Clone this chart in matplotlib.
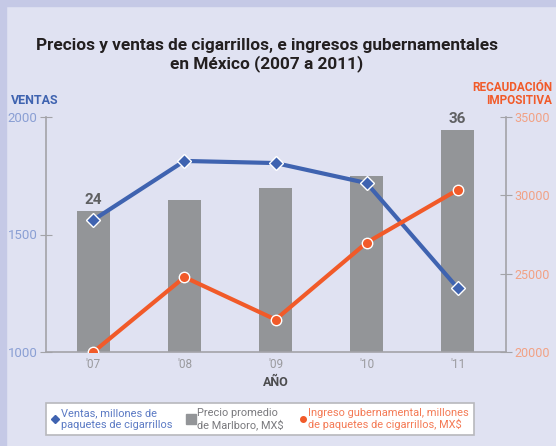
import matplotlib.pyplot as plt
from matplotlib.lines import Line2D
from matplotlib.patches import Rectangle

years = ["'07", "'08", "'09", "'10", "'11"]
ventas = [1562, 1813, 1804, 1719, 1272]          # millones de paquetes
precio = [24, 25.6, 27.4, 29.2, 36]              # MX$ Marlboro
ingreso = [20000, 24780, 22070, 26980, 30350]    # recaudacion
precio_labels = {0: "24", 4: "36"}

bg = '#e0e2f2'
blue = '#3f63b0'
orange = '#f15a29'
grey_bar = '#939598'
spine = '#a3a3a8'

plt.rcParams['font.family'] = ['Roboto', 'DejaVu Sans']

fig = plt.figure(figsize=(5.56, 4.46), dpi=100, facecolor=bg)
# darker frame strips
fig.patches.append(Rectangle((0, 0), 6/556, 1, transform=fig.transFigure, color='#c5c9e6', zorder=0))
fig.patches.append(Rectangle((0, 1-6/446), 1, 6/446, transform=fig.transFigure, color='#c5c9e6', zorder=0))

rect = [46/556, 1-352/446, 460/556, 235/446]
ax_bar = fig.add_axes(rect)
ax_bar.set_facecolor('none')
x = list(range(len(years)))
bars = ax_bar.bar(x, precio, width=0.36, color=grey_bar, zorder=1)
ax_bar.set_ylim(3.1, 37.9)
ax_bar.set_xlim(-0.52, 4.53)
ax_bar.axis('off')
for i, lab in precio_labels.items():
    ax_bar.text(i, precio[i] + 0.6, lab, ha='center', va='bottom', fontsize=11,
                fontweight='bold', color='#5f6062')

ax = fig.add_axes(rect, sharex=ax_bar)
ax.set_facecolor('none')
ax.plot(x, ventas, color=blue, lw=3, marker='D', ms=7.5, mfc=blue, mec='white', mew=1, zorder=3)
ax.set_ylim(1000, 2000)
ax.set_yticks([1000, 1500, 2000])
ax.set_xticks(x)
ax.set_xticklabels(years)
ax.tick_params(axis='y', direction='inout', length=8, color=spine, labelcolor='#8a9fd4', labelsize=9.5, pad=2)
ax.tick_params(axis='x', length=0, labelcolor='#9a9a9e', labelsize=8.5, pad=4)
for s in ['top', 'right']:
    ax.spines[s].set_visible(False)
for s in ['left', 'bottom']:
    ax.spines[s].set_color(spine)
    ax.spines[s].set_linewidth(1.2)
ax.set_xlabel('AÑO', fontsize=9, fontweight='bold', color='#4d4d4f', labelpad=4)

ax2 = ax.twinx()
ax2.set_facecolor('none')
ax2.plot(x, ingreso, color=orange, lw=3, marker='o', ms=7.5, mfc=orange, mec='white', mew=1, zorder=3)
ax2.set_ylim(20000, 35000)
ax2.set_yticks([20000, 25000, 30000, 35000])
ax2.tick_params(axis='y', direction='inout', length=8, color=spine, labelcolor='#f2a184', labelsize=9, pad=2)
for s in ['top', 'left', 'bottom']:
    ax2.spines[s].set_visible(False)
ax2.spines['right'].set_color(spine)
ax2.spines['right'].set_linewidth(1.2)

fig.text(267/556, 1-55/446, 'Precios y ventas de cigarrillos, e ingresos gubernamentales\nen México (2007 a 2011)',
         ha='center', va='center', fontsize=12.4, fontweight='bold', color='#231f20', linespacing=1.2)
fig.text(11/556, 1-100/446, 'VENTAS', ha='left', va='center', fontsize=9, fontweight='bold', color=blue)
fig.text(552/556, 1-94/446, 'RECAUDACIÓN\nIMPOSITIVA', ha='right', va='center', fontsize=8.5,
         fontweight='bold', color=orange, linespacing=1.0)

handles = [
    Line2D([], [], ls='none', marker='D', ms=4.5, color=blue),
    Line2D([], [], ls='none', marker='s', ms=7, color=grey_bar),
    Line2D([], [], ls='none', marker='o', ms=4, color=orange),
]
labels = ['Ventas, millones de\npaquetes de cigarrillos', 'Precio promedio\nde Marlboro, MX$',
          'Ingreso gubernamental, millones\nde paquetes de cigarrillos, MX$']
leg = fig.legend(handles, labels, ncol=3, loc='center', bbox_to_anchor=(260/556, 1-419/446),
                 fontsize=7.9, frameon=True, fancybox=False, edgecolor='#b8b8bc', facecolor='white',
                 framealpha=1, handletextpad=0.15, handlelength=0.7, columnspacing=1.4,
                 borderpad=0.45, labelspacing=0.2)
leg.get_frame().set_linewidth(1.2)
for t, c in zip(leg.get_texts(), ['#5b7ac4', '#7a7a7e', '#f47a55']):
    t.set_color(c)
    t.set_linespacing(1.15)

fig.savefig('out.png', dpi=100, facecolor=bg)
